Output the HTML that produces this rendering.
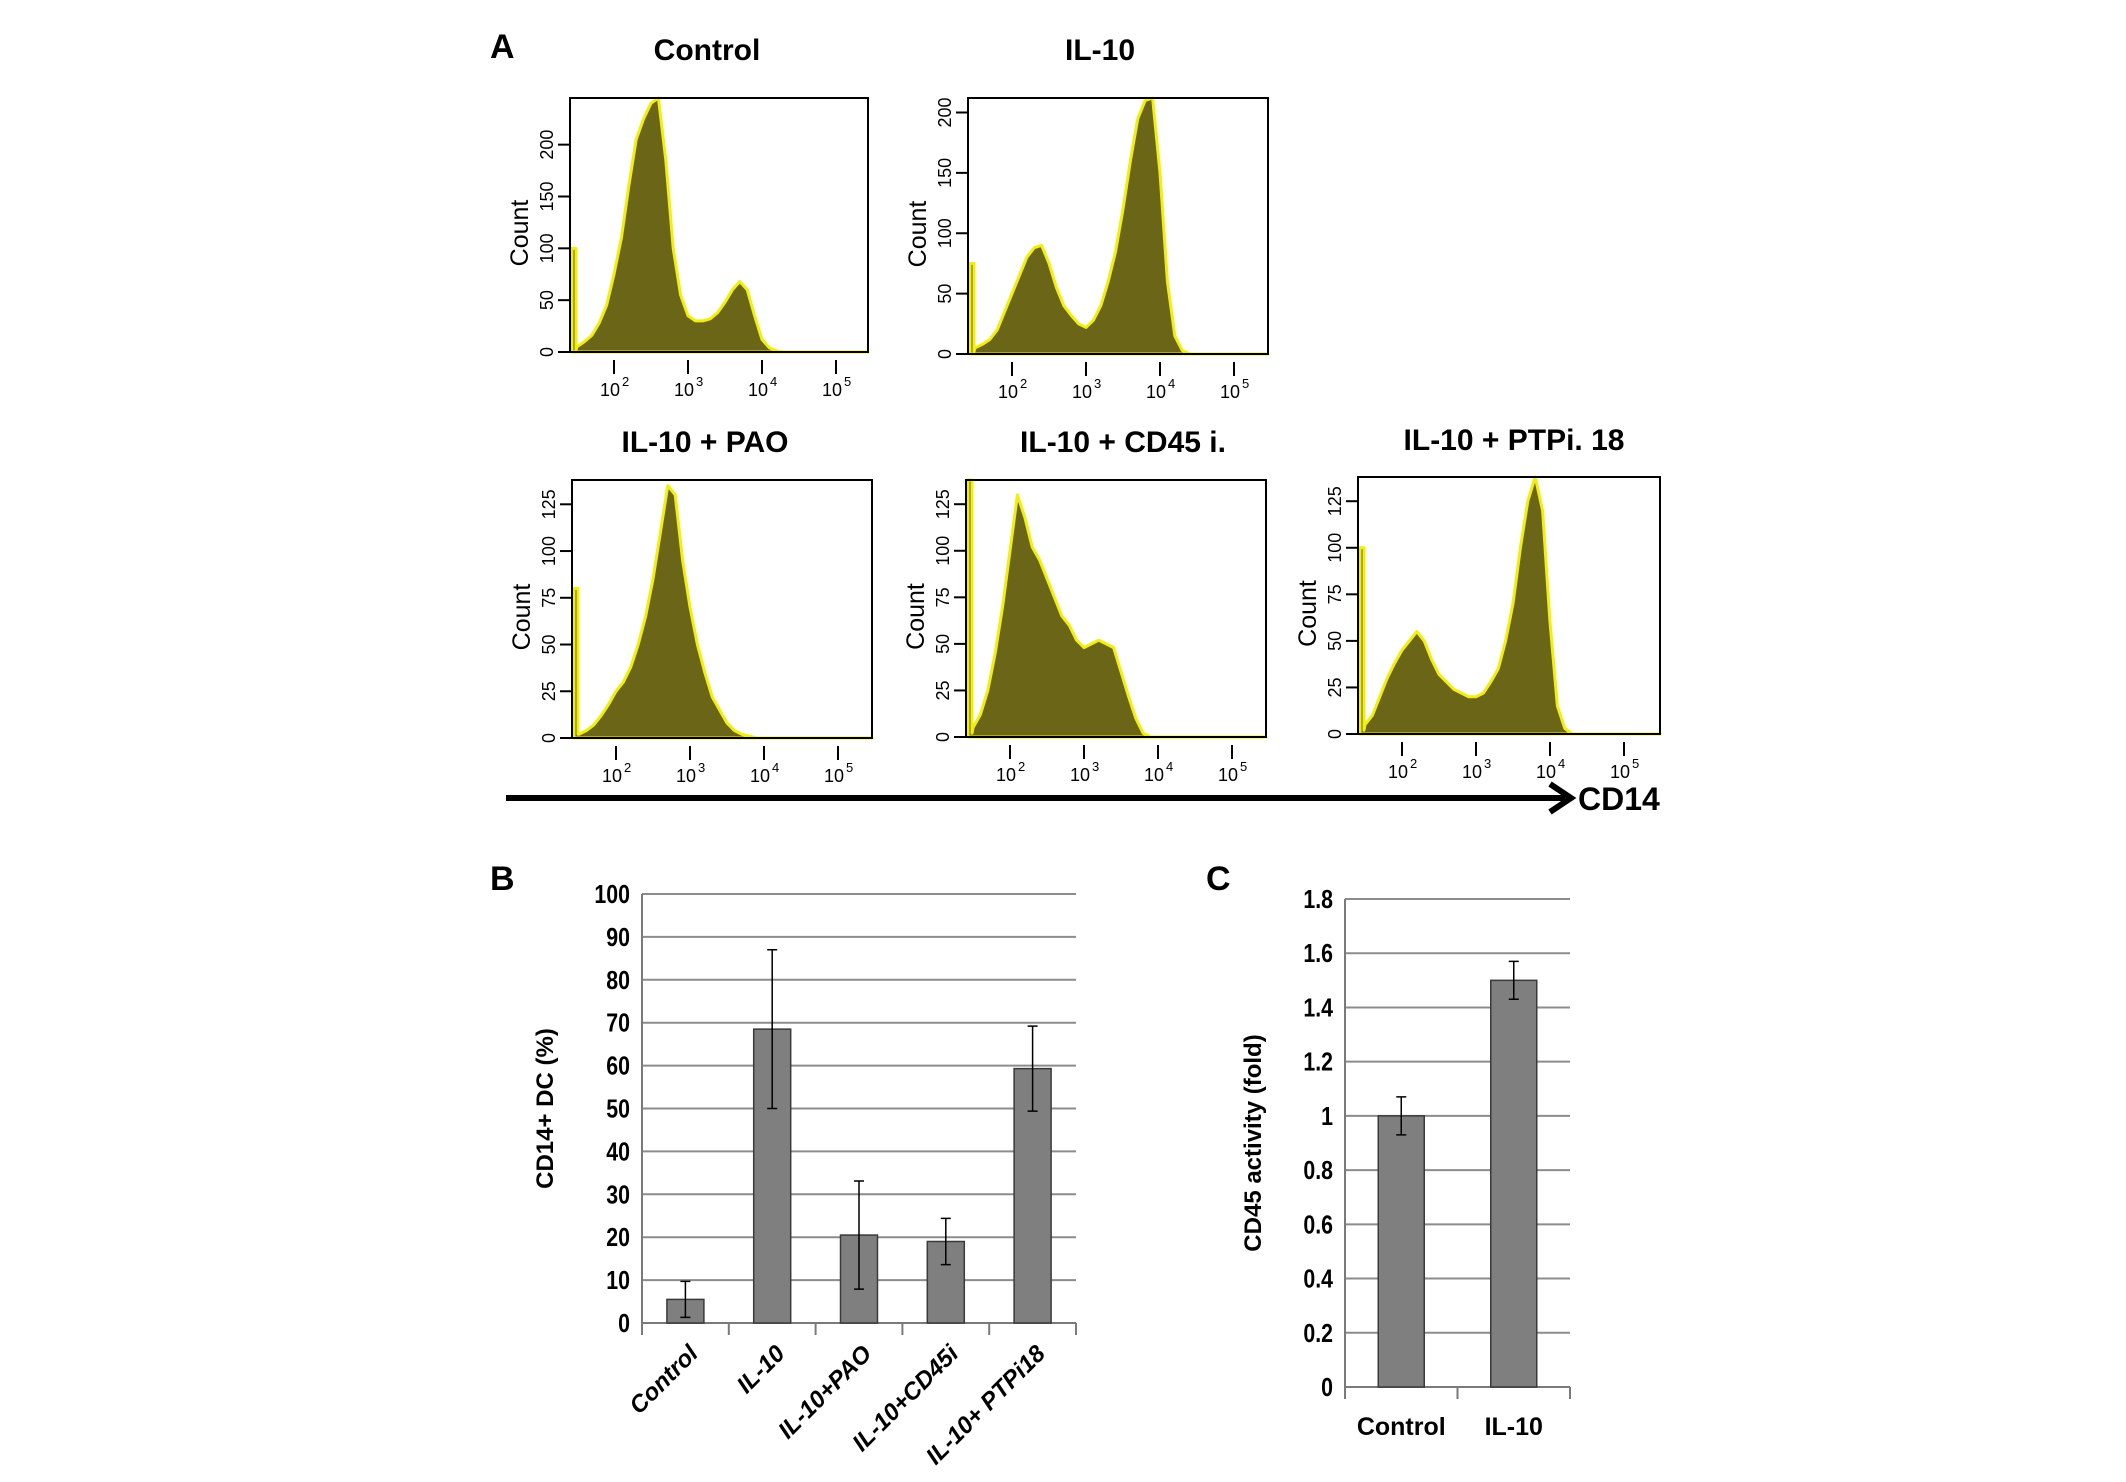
<!DOCTYPE html>
<html><head><meta charset="utf-8"><style>
html,body{margin:0;padding:0;background:#fff}
svg{display:block}
text{font-family:"Liberation Sans",sans-serif}
</style></head><body>
<svg id="fig" width="2126" height="1482" viewBox="0 0 2126 1482" xmlns="http://www.w3.org/2000/svg">
<rect width="2126" height="1482" fill="#fff"/>
<text x="490" y="58" font-family="Liberation Serif" font-weight="bold" font-size="34">A</text>
<text x="490" y="890" font-family="Liberation Serif" font-weight="bold" font-size="34">B</text>
<text x="1206" y="890" font-family="Liberation Serif" font-weight="bold" font-size="34">C</text>
<line x1="506" y1="798" x2="1565" y2="798" stroke="#000" stroke-width="6"/>
<polyline points="1550,784 1571,798 1550,812" fill="none" stroke="#000" stroke-width="6"/>
<text x="1578" y="810" font-weight="bold" font-size="32">CD14</text>
<g id="hists"></g>
<g id="chartB"></g>
<g id="chartC"></g>
</svg>
<script>
// Histogram data: log10 bin positions and counts
const histLogs = [1.5,1.6,1.7,1.8,1.9,2.0,2.1,2.2,2.3,2.4,2.5,2.6,2.7,2.8,2.9,3.0,3.1,3.2,3.3,3.4,3.5,3.6,3.7,3.8,3.9,4.0,4.1,4.2,4.3,4.4];
const histTitles = ["Control","IL-10","IL-10 + PAO","IL-10 + CD45 i.","IL-10 + PTPi. 18"];
const spikeCounts = [100,75,80,140,100];
const controlCounts = [5,10,16,28,45,75,110,160,205,225,240,245,185,100,55,35,30,30,32,38,48,60,68,60,35,12,4,1,0,0];
const il10Counts = [5,8,12,20,35,50,65,80,88,90,75,55,40,32,25,22,28,40,60,85,120,160,195,210,215,150,60,15,3,0];
const paoCounts = [2,4,7,12,18,25,30,38,50,65,85,110,135,130,95,70,50,35,22,15,8,4,2,1,0,0,0,0,0,0];
const cd45Counts = [5,12,25,45,70,100,130,118,102,95,85,75,65,60,52,48,50,52,50,48,35,22,10,2,0,0,0,0,0,0];
const ptpCounts = [5,10,20,30,38,45,50,55,50,40,32,28,24,22,20,20,22,28,35,50,70,100,125,140,120,60,15,3,0,0];
const histYMax = [245,212,138,138,138];
const histYTicks = [[0,50,100,150,200],[0,50,100,150,200],[0,25,50,75,100,125],[0,25,50,75,100,125],[0,25,50,75,100,125]];
const allCounts = [controlCounts,il10Counts,paoCounts,cd45Counts,ptpCounts];
const boxes = [[570,98,298,254],[968,98,300,256],[572,480,300,258],[966,480,300,257],[1358,477,302,257]];
const titleX = [707,1100,705,1123,1514];
const titleY = [60,60,452,452,450];

// Chart B data
const bCats = ["Control","IL-10","IL-10+PAO","IL-10+CD45i","IL-10+ PTPi18"];
const bVals = [5.5,68.5,20.5,19,59.3];
const bErr = [4.2,18.5,12.6,5.4,9.9];
const bTicks = [0,10,20,30,40,50,60,70,80,90,100];
// Chart C data
const cCats = ["Control","IL-10"];
const cVals = [1.0,1.5];
const cErr = [0.07,0.07];
const cTicks = [0,0.2,0.4,0.6,0.8,1,1.2,1.4,1.6,1.8];

const NS="http://www.w3.org/2000/svg";
function mk(tag,attrs,parent,txt){const e=document.createElementNS(NS,tag);for(const k in attrs)e.setAttribute(k,attrs[k]);if(txt!==undefined)e.textContent=txt;parent.appendChild(e);return e;}

const hg=document.getElementById('hists');
allCounts.forEach((counts,i)=>{
  const [x0,y0,w,h]=boxes[i];
  const g=mk('g',{},hg);
  
  
  const xs=l=>x0+44+(l-2)*74;
  const ys=v=>y0+h-Math.min(v,histYMax[i])/histYMax[i]*h;
  const t=mk('text',{x:titleX[i],y:titleY[i],'text-anchor':'middle','font-weight':'bold','font-size':30},g,histTitles[i]);
  
  
  let pts=[[x0+2,ys(0)],[x0+2,ys(spikeCounts[i])],[x0+6,ys(spikeCounts[i])],[x0+6,ys(2)]];
  histLogs.forEach((l,j)=>pts.push([xs(l),ys(counts[j])]));
  pts.push([x0+w,ys(0)]);
  const p=mk('polygon',{points:pts.map(q=>q.join(',')).join(' '),fill:'#6b6518',stroke:'#f2ee10','stroke-width':3,'stroke-linejoin':'round'},g);
  
  
  mk('rect',{x:x0,y:y0,width:w,height:h,fill:'none',stroke:'#000','stroke-width':2},g);
  histYTicks[i].forEach(v=>{
    const y=ys(v);
    mk('line',{x1:x0-12,y1:y,x2:x0,y2:y,stroke:'#000','stroke-width':2},g);
    const tl=mk('text',{x:x0-17,y:y,'text-anchor':'middle','font-size':18,transform:`rotate(-90 ${x0-17} ${y})`},g,String(v));
    
    
  });
  const cy=y0+h/2+8;
  const cl=mk('text',{x:x0-42,y:cy,'text-anchor':'middle','font-size':25,transform:`rotate(-90 ${x0-42} ${cy})`},g,'Count');
  
  
  [2,3,4,5].forEach(d=>{
    const x=xs(d);
    mk('line',{x1:x,y1:y0+h+8,x2:x,y2:y0+h+22,stroke:'#000','stroke-width':2},g);
    const tx=mk('text',{x:x-4,y:y0+h+44,'text-anchor':'middle','font-size':18},g,'10');
    
    
    mk('text',{x:x+8,y:y0+h+34,'font-size':13},g,String(d));
  });
});

function barChart(gid,cats,vals,errs,ticks,x0,x1,yTop,yBot,vmax,barW,title,titleX,rotate,nm){
  const g=document.getElementById(gid);
  
  
  const ys=v=>yBot-v/vmax*(yBot-yTop);
  const cw=(x1-x0)/cats.length;
  ticks.forEach(v=>{
    const y=ys(v);
    if(v>0) mk('line',{x1:x0,y1:y,x2:x1,y2:y,stroke:'#8c8c8c','stroke-width':2},g);
    const t=mk('text',{x:x0-12,y:y+9,'text-anchor':'end','font-weight':'bold','font-size':26,transform:`scale(0.82 1)`,'transform-origin':`${x0-12} ${y}`},g,String(v));
    
    
  });
  mk('line',{x1:x0,y1:yTop,x2:x0,y2:yBot,stroke:'#7a7a7a','stroke-width':2},g);
  mk('line',{x1:x0,y1:yBot,x2:x1,y2:yBot,stroke:'#7a7a7a','stroke-width':2},g);
  for(let k=0;k<=cats.length;k++){const x=x0+k*cw;mk('line',{x1:x,y1:yBot,x2:x,y2:yBot+12,stroke:'#7a7a7a','stroke-width':2},g);}
  cats.forEach((c,k)=>{
    const cx=x0+(k+0.5)*cw;
    const b=mk('rect',{x:cx-barW/2,y:ys(vals[k]),width:barW,height:yBot-ys(vals[k]),fill:'#7f7f7f',stroke:'#3a3a3a','stroke-width':1.5},g);
    
    
    const yh=ys(vals[k]+errs[k]),yl=ys(vals[k]-errs[k]);
    const e=mk('path',{d:`M${cx},${yh}V${yl}M${cx-5},${yh}H${cx+5}M${cx-5},${yl}H${cx+5}`,stroke:'#000','stroke-width':1.5,fill:'none'},g);
    
    
    let lab;
    if(rotate){
      lab=mk('text',{x:cx+14,y:yBot+32,'text-anchor':'end','font-weight':'bold','font-style':'italic','font-size':24,transform:`rotate(-45 ${cx+14} ${yBot+32})`},g,c);
    } else {
      lab=mk('text',{x:cx,y:yBot+48,'text-anchor':'middle','font-weight':'bold','font-size':25},g,c);
    }
    
    
  });
  const cy=(yTop+yBot)/2;
  const tt=mk('text',{x:titleX,y:cy,'text-anchor':'middle','font-weight':'bold','font-size':24,transform:`rotate(-90 ${titleX} ${cy})`},g,title);
  
  
}
barChart('chartB',bCats,bVals,bErr,bTicks,642,1076,894,1323,100,37,'CD14+ DC (%)',553,true,'chart-b');
barChart('chartC',cCats,cVals,cErr,cTicks,1345,1570,899,1387,1.8,46,'CD45 activity (fold)',1261,false,'chart-c');
</script>
</body></html>
